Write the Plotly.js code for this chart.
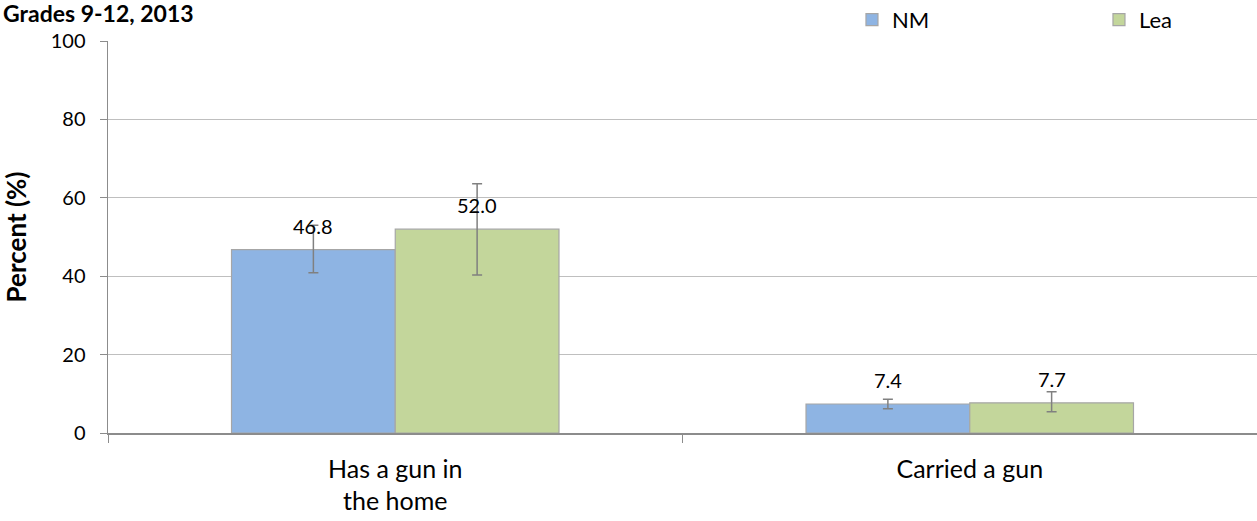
<!DOCTYPE html>
<html><head><meta charset="utf-8">
<script src="https://cdn.plot.ly/plotly-3.0.1.min.js"></script>
<style>body{margin:0;background:#fff}#c{width:1257px;height:521px}</style>
</head><body><div id="c"></div>
<script>
const categories = ["Has a gun in<br>the home", "Carried a gun"];
const nmValues = [46.8, 7.4];
const nmErrPlus = [6.2, 1.2];
const nmErrMinus = [5.9, 1.2];
const leaValues = [52.0, 7.7];
const leaErrPlus = [11.6, 2.8];
const leaErrMinus = [11.7, 2.3];
const yTicks = [0, 20, 40, 60, 80, 100];

const FONT = "Lato, 'Open Sans', sans-serif";
const barLine = {color: "#a6a6a6", width: 1.2};
const traces = [
  {type: "bar", name: "NM", x: categories, y: nmValues,
   marker: {color: "#8eb4e3", line: barLine},
   error_y: {type: "data", array: nmErrPlus, arrayminus: nmErrMinus, color: "#808080", thickness: 1.5, width: 5}},
  {type: "bar", name: "Lea", x: categories, y: leaValues,
   marker: {color: "#c3d69b", line: barLine},
   error_y: {type: "data", array: leaErrPlus, arrayminus: leaErrMinus, color: "#808080", thickness: 1.5, width: 5}}
];
const annotations = [];
categories.forEach((c, i) => {
  annotations.push({x: c, y: nmValues[i], xref: "x", yref: "y", text: nmValues[i].toFixed(1), showarrow: false, xshift: -82, yshift: 24, font: {family: FONT, size: 20, color: "#000"}});
  annotations.push({x: c, y: leaValues[i], xref: "x", yref: "y", text: leaValues[i].toFixed(1), showarrow: false, xshift: 82, yshift: 24, font: {family: FONT, size: 20, color: "#000"}});
});
const layout = {
  width: 1257, height: 521,
  margin: {l: 108, r: 0, t: 41, b: 88, autoexpand: false},
  paper_bgcolor: "#fff", plot_bgcolor: "#fff",
  font: {family: FONT, size: 20, color: "#000"},
  title: {text: "<b>Grades 9-12, 2013</b>", xref: "container", yref: "container", x: 0, xanchor: "left", y: 0.973, yanchor: "middle", pad: {t: 0, l: 3}, font: {family: FONT, size: 23, color: "#000"}},
  barmode: "group", bargap: 0.43, bargroupgap: 0,
  showlegend: true,
  legend: {orientation: "h", x: 0.6475, xanchor: "left", y: 1.054, yanchor: "middle", entrywidth: 202, entrywidthmode: "pixels", font: {family: FONT, size: 22}, itemwidth: 30, bgcolor: "rgba(0,0,0,0)"},
  xaxis: {type: "category", tickson: "boundaries", ticks: "outside", ticklen: 8, tickcolor: "#8c8c8c", showline: true, linecolor: "#8c8c8c", linewidth: 1.5, showgrid: false, tickfont: {family: FONT, size: 25}, ticklabelstandoff: 13},
  yaxis: {range: [0, 100], tickvals: yTicks, ticks: "outside", ticklen: 7, tickcolor: "#8c8c8c", showline: true, linecolor: "#8c8c8c", linewidth: 1.5, showgrid: true, gridcolor: "#bfbfbf", gridwidth: 1.2, zeroline: false, tickfont: {family: FONT, size: 20}, ticklabelstandoff: 10,
    title: {text: "<b>Percent (%)</b>", standoff: 21, font: {family: FONT, size: 26}}},
  annotations: annotations
};
Plotly.newPlot("c", traces, layout, {displayModeBar: false, staticPlot: true});
</script></body></html>
